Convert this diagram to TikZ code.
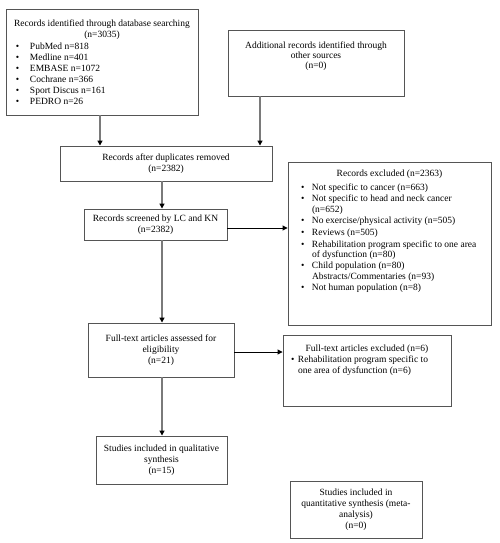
\documentclass[tikz,border=0pt]{standalone}
\usepackage{fontspec}
\setmainfont{Liberation Serif}
\usetikzlibrary{arrows.meta,calc}
\definecolor{boxgray}{HTML}{555555}
\definecolor{congray}{HTML}{7A7A7A}
\newcommand\bxfont{\fontsize{9.5pt}{11pt}\selectfont}
\newlength\itgap
\newcommand\blt[3]{\par\vspace{\itgap}\noindent\hangindent=#2\hangafter=1\hspace*{#1}\makebox[\dimexpr#2-#1\relax][l]{\textbullet}#3}
\begin{document}
\begin{tikzpicture}[x=1pt,y=-1pt,
  box/.style={draw=boxgray, line width=0.9pt, inner sep=0pt, font=\bxfont, align=center},
  con/.style={draw=congray, line width=1.5pt, -{Triangle[length=5pt,width=5pt,color=black]}},
  hcon/.style={draw=black, line width=0.9pt, -{Triangle[length=5pt,width=5pt]}}]
\useasboundingbox[fill=white] (0,0) rectangle (500,543);

\node[box, minimum width=192pt, minimum height=106pt] (idb) at (102,62)
  {\parbox{182pt}{\centering Records identified through database searching\\(n=3035)\par
   \setlength\itgap{0pt}\raggedright\vspace{1pt}%
   \blt{5pt}{19pt}{PubMed n=818}%
   \blt{5pt}{19pt}{Medline n=401}%
   \blt{5pt}{19pt}{EMBASE n=1072}%
   \blt{5pt}{19pt}{Cochrane n=366}%
   \blt{5pt}{19pt}{Sport Discus n=161}%
   \blt{5pt}{19pt}{PEDRO n=26}}};

\node[box, minimum width=176pt, minimum height=66pt] (add) at (316,63)
  {\parbox[c][66pt][t]{170pt}{\vspace*{10.5pt}\centering\baselineskip=10pt
   \strut Additional records identified through\\other sources\\(n=0)\par}};

\node[box, minimum width=212pt, minimum height=35pt] (dup) at (166,163.5)
  {Records after duplicates removed\\(n=2382)};

\node[box, minimum width=143pt, minimum height=31pt] (scr) at (155.5,224.5)
  {Records screened by LC and KN\\(n=2382)};

\node[box, minimum width=203pt, minimum height=163pt] (exc) at (389.5,243.5)
  {\parbox[c][163pt][t]{195pt}{\vspace*{6.5pt}\baselineskip=10.3pt
   {\centering\strut Records excluded (n=2363)\par}
   \vspace{2.5pt}\setlength\itgap{1.3pt}\raggedright
   \blt{9pt}{20pt}{Not specific to cancer (n=663)}%
   \blt{9pt}{20pt}{Not specific to head and neck cancer\newline(n=652)}%
   \blt{9pt}{20pt}{No exercise/physical activity (n=505)}%
   \blt{9pt}{20pt}{Reviews (n=505)}%
   \blt{9pt}{20pt}{Rehabilitation program specific to one area\newline of dysfunction (n=80)}%
   \blt{9pt}{20pt}{Child population (n=80)\newline Abstracts/Commentaries (n=93)}%
   \blt{9pt}{20pt}{Not human population (n=8)}\par}};

\node[box, minimum width=146pt, minimum height=54pt] (fta) at (161,350)
  {Full-text articles assessed for\\eligibility\\(n=21)};

\node[box, minimum width=168pt, minimum height=71pt] (fte) at (367,370.5)
  {\parbox[c][71pt][t]{162pt}{\vspace*{8.5pt}\baselineskip=11pt
   {\centering\strut Full-text articles excluded (n=6)\par}
   \setlength\itgap{0.5pt}\raggedright
   \blt{5pt}{12pt}{Rehabilitation program specific to\newline one area of dysfunction (n=6)}\par}};

\node[box, minimum width=131pt, minimum height=48pt] (qual) at (161.5,460)
  {Studies included in qualitative\\synthesis\\(n=15)};

\node[box, minimum width=132pt, minimum height=57pt] (quan) at (356,509.5)
  {Studies included in\\quantitative synthesis (meta-\\analysis)\\(n=0)};

\coordinate (a1) at ([xshift=-2pt]idb.south);
\coordinate (a2) at ([xshift=-56pt]add.south);
\coordinate (a3) at ([xshift=-4pt]dup.south);
\coordinate (a4) at ([yshift=-3.5pt]scr.east);
\coordinate (a5) at ([xshift=6.5pt]scr.south);
\coordinate (a6) at ([yshift=-2pt]fta.east);
\coordinate (a7) at ([xshift=1pt]fta.south);

\draw[con] (a1) -- (a1 |- dup.north);
\draw[con] (a2) -- (a2 |- dup.north);
\draw[con] (a3) -- (a3 |- scr.north);
\draw[hcon] (a4) -- (a4 -| exc.west);
\draw[con] (a5) -- (a5 |- fta.north);
\draw[hcon] (a6) -- (a6 -| fte.west);
\draw[con] (a7) -- (a7 |- qual.north);
\end{tikzpicture}
\end{document}
